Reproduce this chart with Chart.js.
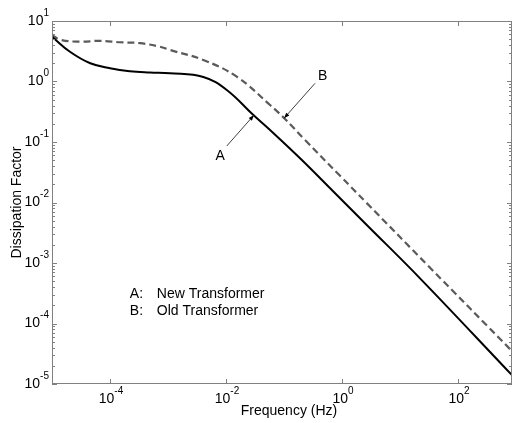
<!DOCTYPE html>
<html>
<head>
<meta charset="utf-8">
<script src="https://cdn.jsdelivr.net/npm/chart.js@4"></script>
<style>
  html, body { margin: 0; padding: 0; background: #fff; }
  canvas { display: block; }
</style>
</head>
<body>
<canvas id="dfChart" width="513" height="423"></canvas>
<script>
// 曲線 A: New Transformer
const freqA = [1e-5, 2.04e-5, 4.57e-5, 1e-4, 2.19e-4, 4.9e-4, 1.08e-3, 4.06e-3, 1.03e-2, 2.96e-2, 5.74e-2, 0.189, 0.708, 2.67, 22.1, 851];
const dissA = [5.5, 3.1, 2.0, 1.66, 1.48, 1.41, 1.37, 1.19, 0.725, 0.279, 0.158, 0.0538, 0.0152, 4.25e-3, 5.58e-4, 1.4e-5];

// 曲線 B: Old Transformer
const freqB = [1e-5, 1.38e-5, 3e-5, 6.8e-5, 1.48e-4, 3.3e-4, 7.2e-4, 1.08e-3, 4.06e-3, 1.53e-2, 5.74e-2, 0.104, 0.23, 0.925, 2.67, 30.8, 851];
const dissB = [5.9, 4.9, 4.55, 4.7, 4.45, 4.3, 3.76, 3.32, 2.27, 1.2, 0.409, 0.24, 0.108, 0.0276, 9.77e-3, 8.9e-4, 3.5e-5];

// 刻度
const xTickExps = [-4, -2, 0, 2];
const yTickExps = [-5, -4, -3, -2, -1, 0, 1];

// 文字標註 (資料座標)
const legendLines = [['A:', 'New Transformer'], ['B:', 'Old Transformer']];
const legendPos = [[2.2e-4, 3.1e-4], [2.2e-4, 1.62e-4]];
const arrowLabels = ['A', 'B'];
const arrowText = [[7.9e-3, 0.0587], [0.465, 1.23]];
const arrowTail = [[0.0103, 0.0859], [0.342, 0.933]];
const arrowTip = [[0.0304, 0.279], [0.1, 0.247]];

const FONT = '"Liberation Sans", Arial, sans-serif';

function drawPow(ctx, exp, px, py, align) {
    ctx.font = '14px ' + FONT;
    const wBase = ctx.measureText('10').width;
    ctx.font = '10px ' + FONT;
    const wExp = ctx.measureText(String(exp)).width;
    const total = wBase + wExp;
    let start = align === 'center' ? px - total / 2 : px - total;
    ctx.textAlign = 'left';
    ctx.textBaseline = 'middle';
    ctx.font = '14px ' + FONT;
    ctx.fillText('10', start, py);
    ctx.font = '10px ' + FONT;
    ctx.fillText(String(exp), start + wBase, py - 8);
}

const overlay = {
    id: 'overlay',
    afterDraw(chart) {
        const { ctx, chartArea: a, scales: { x, y } } = chart;
        ctx.save();

        // 外框
        ctx.strokeStyle = '#808080';
        ctx.lineWidth = 1;
        ctx.strokeRect(a.left + 0.5, a.top + 0.5, a.right - a.left - 1, a.bottom - a.top - 1);

        // x 刻度
        ctx.beginPath();
        xTickExps.forEach(e => {
            const px = Math.round(x.getPixelForValue(Math.pow(10, e))) + 0.5;
            ctx.moveTo(px, a.bottom); ctx.lineTo(px, a.bottom - 5);
            ctx.moveTo(px, a.top); ctx.lineTo(px, a.top + 5);
        });
        // y 刻度 (主 + 次)
        yTickExps.forEach(e => {
            const py = Math.round(y.getPixelForValue(Math.pow(10, e))) + 0.5;
            ctx.moveTo(a.left, py); ctx.lineTo(a.left + 5, py);
            ctx.moveTo(a.right, py); ctx.lineTo(a.right - 5, py);
            if (e < 1) {
                for (let m = 2; m <= 9; m++) {
                    const pm = Math.round(y.getPixelForValue(m * Math.pow(10, e))) + 0.5;
                    ctx.moveTo(a.left, pm); ctx.lineTo(a.left + 3, pm);
                    ctx.moveTo(a.right, pm); ctx.lineTo(a.right - 3, pm);
                }
            }
        });
        ctx.stroke();

        // 刻度文字
        ctx.fillStyle = '#000';
        xTickExps.forEach(e => {
            drawPow(ctx, e, x.getPixelForValue(Math.pow(10, e)) + 1, a.bottom + 15, 'center');
        });
        yTickExps.forEach(e => {
            drawPow(ctx, e, a.left - 3, y.getPixelForValue(Math.pow(10, e)), 'right');
        });

        // 軸標題
        ctx.font = '14px ' + FONT;
        ctx.textAlign = 'center';
        ctx.textBaseline = 'middle';
        ctx.fillText('Frequency (Hz)', (a.left + a.right) / 2 + 7, 411);
        ctx.save();
        ctx.translate(17, (a.top + a.bottom) / 2);
        ctx.rotate(-Math.PI / 2);
        ctx.fillText('Dissipation Factor', 0, 0);
        ctx.restore();

        // 圖例文字
        ctx.textAlign = 'left';
        legendLines.forEach((ln, i) => {
            const px = x.getPixelForValue(legendPos[i][0]);
            const py = y.getPixelForValue(legendPos[i][1]);
            ctx.fillText(ln[0], px, py);
            ctx.fillText(ln[1], px + 27, py);
        });

        // 箭頭標註
        ctx.textAlign = 'center';
        ctx.strokeStyle = '#404040';
        ctx.fillStyle = '#000';
        arrowLabels.forEach((lab, i) => {
            ctx.fillText(lab, x.getPixelForValue(arrowText[i][0]), y.getPixelForValue(arrowText[i][1]));
            const x0 = x.getPixelForValue(arrowTail[i][0]), y0 = y.getPixelForValue(arrowTail[i][1]);
            const x1 = x.getPixelForValue(arrowTip[i][0]), y1 = y.getPixelForValue(arrowTip[i][1]);
            ctx.beginPath();
            ctx.moveTo(x0, y0); ctx.lineTo(x1, y1);
            ctx.stroke();
            const ang = Math.atan2(y1 - y0, x1 - x0);
            ctx.beginPath();
            ctx.moveTo(x1, y1);
            ctx.lineTo(x1 - 6 * Math.cos(ang - 0.35), y1 - 6 * Math.sin(ang - 0.35));
            ctx.lineTo(x1 - 6 * Math.cos(ang + 0.35), y1 - 6 * Math.sin(ang + 0.35));
            ctx.closePath();
            ctx.fill();
        });

        ctx.restore();
    }
};

const ctx = document.getElementById('dfChart').getContext('2d');
const dfChart = new Chart(ctx, {
    type: 'line',
    data: {
        datasets: [{
            label: 'A: New Transformer',
            data: freqA.map((f, i) => ({ x: f, y: dissA[i] })),
            borderColor: '#000000',
            borderWidth: 2,
            pointRadius: 0,
            tension: 0.4,
            fill: false
        }, {
            label: 'B: Old Transformer',
            data: freqB.map((f, i) => ({ x: f, y: dissB[i] })),
            borderColor: '#5a5a5a',
            borderWidth: 2.2,
            borderDash: [7, 4],
            pointRadius: 0,
            tension: 0.4,
            fill: false
        }]
    },
    options: {
        responsive: false,
        animation: false,
        layout: { padding: { left: 52, top: 21, right: 1, bottom: 39 } },
        plugins: { legend: { display: false }, tooltip: { enabled: false } },
        scales: {
            x: { type: 'logarithmic', min: 1e-5, max: 851, display: false },
            y: { type: 'logarithmic', min: 1e-5, max: 10, display: false }
        }
    },
    plugins: [overlay]
});
</script>
</body>
</html>
